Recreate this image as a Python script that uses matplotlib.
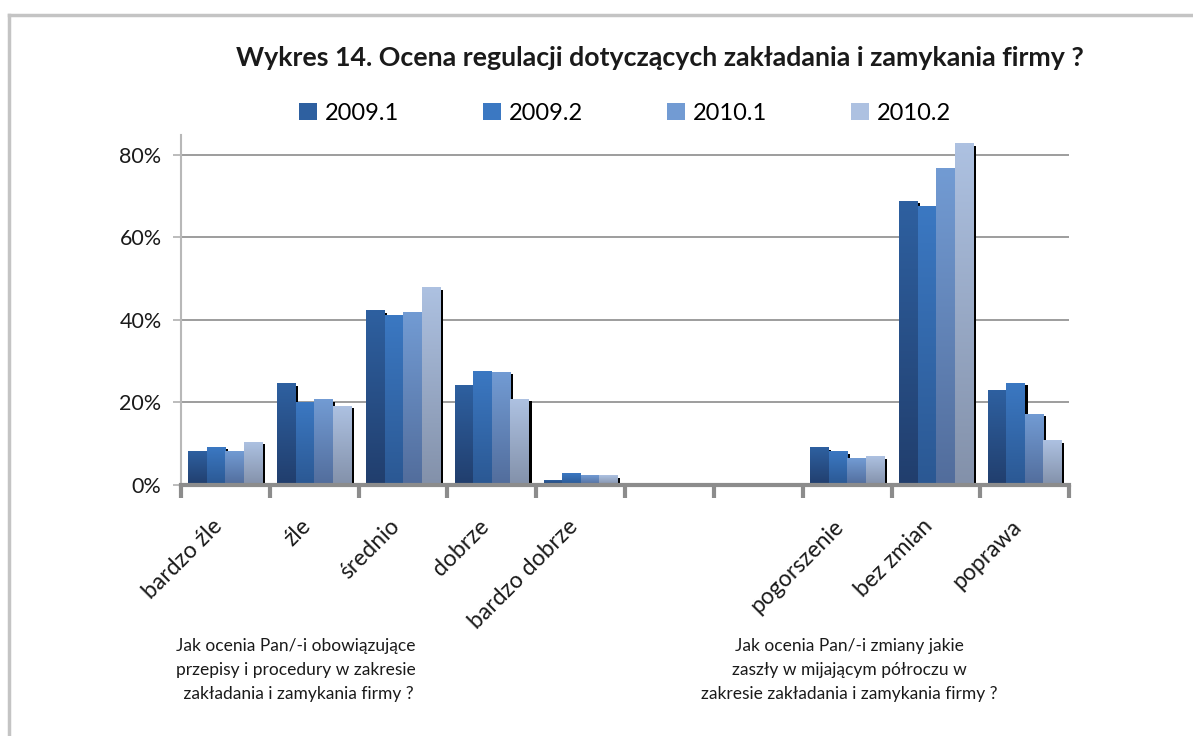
import matplotlib
matplotlib.use("Agg")
import matplotlib.pyplot as plt
import matplotlib.transforms as mtransforms
import numpy as np
from matplotlib.lines import Line2D
from matplotlib.patches import Patch

plt.rcParams['font.family'] = ['Lato', 'DejaVu Sans']

# category slots (two empty spacer slots between the question groups)
categories = ["bardzo źle", "źle", "średnio", "dobrze", "bardzo dobrze",
              "", "", "pogorszenie", "bez zmian", "poprawa"]
series = ["2009.1", "2009.2", "2010.1", "2010.2"]

v2009_1 = [8.2, 24.5, 42.2, 24.0, 1.2, 0, 0, 9.0, 68.8, 22.8]
v2009_2 = [9.2, 19.9, 41.0, 27.5, 2.7, 0, 0, 8.0, 67.6, 24.7]
v2010_1 = [8.2, 20.6, 41.9, 27.3, 2.2, 0, 0, 6.5, 76.6, 17.2]
v2010_2 = [10.4, 19.1, 47.8, 20.8, 2.2, 0, 0, 6.8, 82.7, 10.7]
values = [v2009_1, v2009_2, v2010_1, v2010_2]

group_notes = ["Jak ocenia Pan/-i obowiązujące\nprzepisy i procedury w zakresie\n zakładania i zamykania firmy ?",
               "Jak ocenia Pan/-i zmiany jakie\nzaszły w mijającym półroczu w\nzakresie zakładania i zamykania firmy ?"]

# gradient colours per series: (top, bottom)
grad = [("#2e60a0", "#213e6d"),
        ("#3b78c2", "#2b5893"),
        ("#729bd3", "#526d9c"),
        ("#adc1e1", "#8391aa")]

fig = plt.figure(figsize=(11.93, 7.36), dpi=100)
ax = fig.add_axes([0.1517, 0.341, 0.7446, 0.4755])

ymax = 84.8
n = len(categories)
bw = 0.208
x = np.arange(n)
sx, sy = 0.03, 0.5  # shadow offset

for si, vals in enumerate(values):
    offs = x - 2 * bw + si * bw
    for xi, v in zip(offs, vals):
        if v <= 0:
            continue
        ax.bar(xi + sx, v - sy, width=bw, bottom=0, align='edge', color='black', zorder=2)

for si, vals in enumerate(values):
    top = np.array(matplotlib.colors.to_rgb(grad[si][0]))
    bot = np.array(matplotlib.colors.to_rgb(grad[si][1]))
    g = np.linspace(0, 1, 64)[:, None]
    img = (bot[None, :] * (1 - g) + top[None, :] * g)[:, None, :]
    offs = x - 2 * bw + si * bw
    for xi, v in zip(offs, vals):
        if v <= 0:
            continue
        ax.imshow(img, extent=[xi, xi + bw, 0, v], origin='lower',
                  aspect='auto', interpolation='bilinear', zorder=3)

ax.set_xlim(-0.5, n - 0.5)
ax.set_ylim(0, ymax)

ax.set_yticks([0, 20, 40, 60, 80])
ax.set_yticklabels(["0%", "20%", "40%", "60%", "80%"], fontsize=15.5, color='#1a1a1a')
ax.yaxis.grid(True, color='#8c8c8c', linewidth=1.2)
ax.set_axisbelow(True)
ax.tick_params(axis='y', length=6, width=1.2, color='#b0b0b0', pad=8)

ax.set_xticks(x)
ax.set_xticklabels(categories, rotation=45, ha='right', va='top',
                   rotation_mode='anchor', fontsize=16.5, color='#1a1a1a')
ax.tick_params(axis='x', which='major', length=0, pad=22)
shift = mtransforms.ScaledTranslation(-14 / 100, 0, fig.dpi_scale_trans)
for lab in ax.get_xticklabels():
    lab.set_transform(lab.get_transform() + shift)
ax.set_xticks(np.arange(n + 1) - 0.5, minor=True)
ax.tick_params(axis='x', which='minor', length=9, width=3, color='#8c8c8c')

for s in ['top', 'right']:
    ax.spines[s].set_visible(False)
ax.spines['left'].set_color('#b8b8b8')
ax.spines['left'].set_linewidth(1.5)
ax.spines['bottom'].set_color('#8c8c8c')
ax.spines['bottom'].set_linewidth(3)
ax.spines['bottom'].set_zorder(4)

fig.text(0.553, 0.921, "Wykres 14. Ocena regulacji dotyczących zakładania i zamykania firmy ?",
         ha='center', va='center', fontsize=19.3, fontweight='bold', color='#1a1a1a')

handles = [Patch(facecolor=grad[i][0]) for i in range(4)]
fig.legend(handles, series, loc='center', bbox_to_anchor=(0.524, 0.846), ncol=4,
           frameon=False, fontsize=17, handlelength=0.75, handleheight=0.75,
           handletextpad=0.35, columnspacing=3.55)

fig.text(0.248, 0.090, group_notes[0], ha='center', va='center', fontsize=12.5,
         linespacing=1.6, color='#1a1a1a')
fig.text(0.712, 0.090, group_notes[1], ha='center', va='center', fontsize=12.5,
         linespacing=1.6, color='#1a1a1a')

# outer frame (only top and left visible)
fig.add_artist(Line2D([9 / 1193, 1.0], [1 - 15 / 736, 1 - 15 / 736], transform=fig.transFigure,
                      color='#c4c4c4', linewidth=2.5))
fig.add_artist(Line2D([9 / 1193, 9 / 1193], [0.0, 1 - 15 / 736], transform=fig.transFigure,
                      color='#c4c4c4', linewidth=2.5))

fig.savefig("out.png", dpi=100)
